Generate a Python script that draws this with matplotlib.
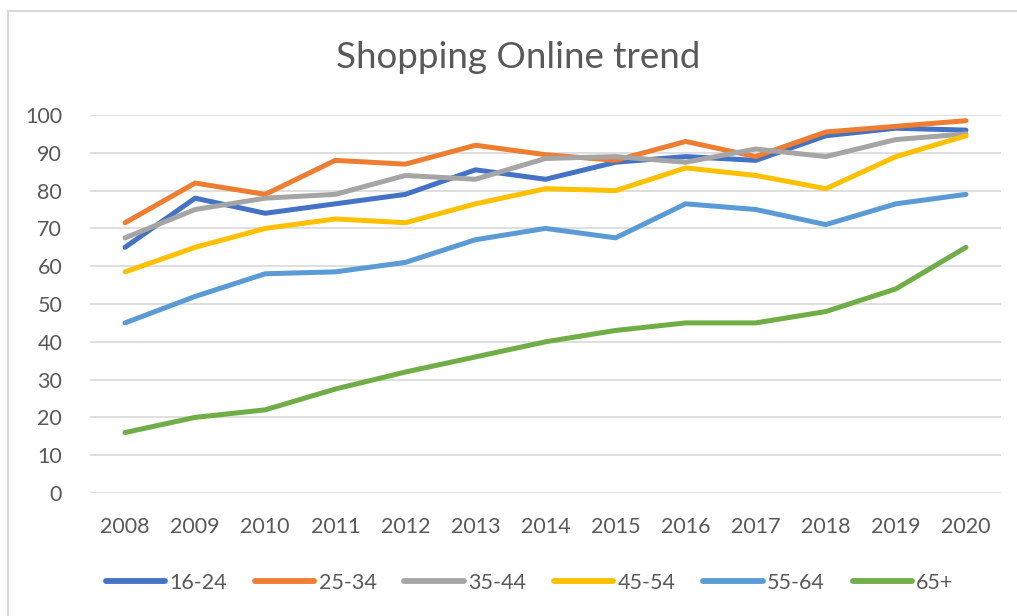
import matplotlib
matplotlib.use("Agg")
import matplotlib.pyplot as plt
from matplotlib.patches import Rectangle

years = [2008, 2009, 2010, 2011, 2012, 2013, 2014, 2015, 2016, 2017, 2018, 2019, 2020]
age_16_24 = [65, 78, 74, 76.5, 79, 85.5, 83, 87.5, 89, 88, 94.5, 96.5, 96]
age_25_34 = [71.5, 82, 79, 88, 87, 92, 89.5, 88, 93, 89, 95.5, 97, 98.5]
age_35_44 = [67.5, 75, 78, 79, 84, 83, 88.5, 89, 87.5, 91, 89, 93.5, 95]
age_45_54 = [58.5, 65, 70, 72.5, 71.5, 76.5, 80.5, 80, 86, 84, 80.5, 89, 94.5]
age_55_64 = [45, 52, 58, 58.5, 61, 67, 70, 67.5, 76.5, 75, 71, 76.5, 79]
age_65_plus = [16, 20, 22, 27.5, 32, 36, 40, 43, 45, 45, 48, 54, 65]

series = [("16-24", age_16_24, "#4472C4"),
          ("25-34", age_25_34, "#ED7D31"),
          ("35-44", age_35_44, "#A5A5A5"),
          ("45-54", age_45_54, "#FFC000"),
          ("55-64", age_55_64, "#5B9BD5"),
          ("65+", age_65_plus, "#70AD47")]

plt.rcParams['font.family'] = ['Lato', 'DejaVu Sans']
txt = "#595959"

fig = plt.figure(figsize=(10.17, 6.16), dpi=100)
fig.patch.set_facecolor("white")
fig.patches.append(Rectangle((8/1017, -0.01), 1.02, (616-11)/616 + 0.01,
                             transform=fig.transFigure, fill=False,
                             edgecolor="#D9D9D9", linewidth=1.5))

ax = fig.add_axes([90/1017, (616-493)/616, (1001-90)/1017, (493-115)/616])
x = list(range(len(years)))
for name, vals, col in series:
    ax.plot(x, vals, color=col, linewidth=3.6, label=name, solid_capstyle="round",
            solid_joinstyle="round")

ax.set_xlim(-0.5, len(years) - 0.5)
ax.set_ylim(0, 100)
ax.set_yticks(range(0, 101, 10))
ax.set_xticks(x)
ax.set_xticklabels([str(y) for y in years])
ax.grid(axis="y", color="#D9D9D9", linewidth=1.2)
ax.set_axisbelow(True)
for s in ax.spines.values():
    s.set_visible(False)
ax.tick_params(axis="both", length=0, labelsize=15.5, colors=txt)
ax.tick_params(axis="y", pad=20)
ax.tick_params(axis="x", pad=17)

fig.text(0.510, 1 - 57/616, "Shopping Online trend", ha="center", va="center",
         fontsize=26.5, color=txt)

leg = fig.legend(loc="center", bbox_to_anchor=(0.521, 1 - 583/616), ncol=6,
                 frameon=False, fontsize=15.5, handlelength=2.75, handletextpad=0.2,
                 columnspacing=1.3, labelcolor=txt)
for h in leg.legend_handles:
    h.set_linewidth(4.2)

fig.savefig("out.png", dpi=100, facecolor="white")
